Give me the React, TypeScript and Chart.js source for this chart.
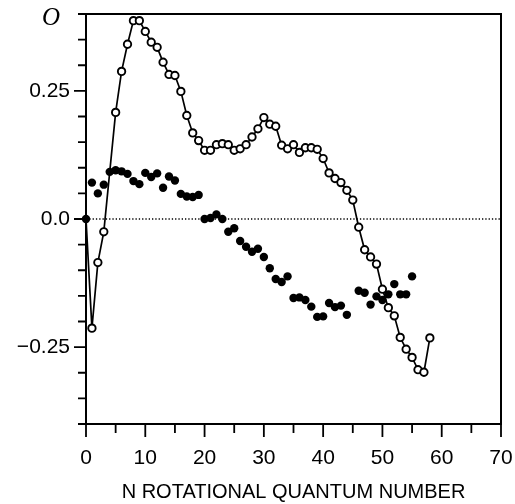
import React, { useEffect, useRef } from "react";
import { Chart, registerables } from "chart.js";

Chart.register(...registerables);

// ---- data ----
const OPEN_N = [0, 1, 2, 3, 5, 6, 7, 8, 9, 10, 11, 12, 13, 14, 15, 16, 17, 18, 19, 20, 21, 22, 23, 24, 25, 26, 27, 28, 29, 30, 31, 32, 33, 34, 35, 36, 37, 38, 39, 40, 41, 42, 43, 44, 45, 46, 47, 48, 49, 50, 51, 52, 53, 54, 55, 56, 57, 58];
const OPEN_VAL = [0, -0.213, -0.085, -0.025, 0.208, 0.288, 0.341, 0.387, 0.387, 0.366, 0.345, 0.335, 0.306, 0.282, 0.28, 0.249, 0.202, 0.168, 0.153, 0.134, 0.134, 0.145, 0.147, 0.145, 0.134, 0.137, 0.145, 0.16, 0.176, 0.198, 0.185, 0.181, 0.144, 0.137, 0.145, 0.13, 0.139, 0.139, 0.136, 0.118, 0.09, 0.079, 0.071, 0.056, 0.037, -0.016, -0.06, -0.074, -0.088, -0.137, -0.173, -0.189, -0.231, -0.254, -0.27, -0.294, -0.299, -0.232];

const FILLED_N = [0, 1, 2, 3, 4, 5, 6, 7, 8, 9, 10, 11, 12, 13, 14, 15, 16, 17, 18, 19, 20, 21, 22, 23, 24, 25, 26, 27, 28, 29, 30, 31, 32, 33, 34, 35, 36, 37, 38, 39, 40, 41, 42, 43, 44, 46, 47, 48, 49, 50, 51, 52, 53, 54, 55];
const FILLED_VAL = [0, 0.071, 0.05, 0.067, 0.092, 0.095, 0.093, 0.088, 0.074, 0.068, 0.09, 0.082, 0.089, 0.061, 0.083, 0.075, 0.049, 0.044, 0.043, 0.047, 0.0, 0.002, 0.009, 0.0, -0.025, -0.018, -0.043, -0.054, -0.064, -0.058, -0.074, -0.096, -0.117, -0.123, -0.112, -0.154, -0.153, -0.158, -0.171, -0.191, -0.19, -0.164, -0.172, -0.169, -0.187, -0.14, -0.144, -0.167, -0.151, -0.158, -0.147, -0.127, -0.147, -0.147, -0.112];

const ZERO_LINE_N = [0, 70];
const ZERO_LINE_VAL = [0, 0];

const X_MIN = 0;
const X_MAX = 70;
const Y_MIN = -0.4;
const Y_MAX = 0.4;
const X_TICKS = [0, 10, 20, 30, 40, 50, 60, 70];
const X_TICK_LABELS = ["0", "10", "20", "30", "40", "50", "60", "70"];
const Y_TICKS = [-0.25, 0, 0.25];
const Y_TICK_LABELS = ["\u22120.25", "0.0", "0.25"];
const X_MINOR_STEP = 5;
const Y_MINOR_STEP = 0.05;
const X_TITLE = "N ROTATIONAL QUANTUM NUMBER";
const CORNER_LABEL = "O";

const FONT = "'Liberation Sans', Arial, Helvetica, sans-serif";

const framePlugin = {
  id: "frame",
  afterDraw(chart: any) {
    const { ctx, chartArea } = chart;
    const xs = chart.scales.x;
    const ys = chart.scales.y;
    const { left, right, top, bottom } = chartArea;
    ctx.save();
    ctx.strokeStyle = "#000";
    ctx.lineWidth = 2;
    ctx.strokeRect(left, top, right - left, bottom - top);
    const nx = Math.round((X_MAX - X_MIN) / X_MINOR_STEP);
    ctx.lineWidth = 1.8;
    ctx.beginPath();
    for (let i = 0; i <= nx; i++) {
      const v = X_MIN + i * X_MINOR_STEP;
      const px = xs.getPixelForValue(v);
      const major = X_TICKS.some((t) => Math.abs(t - v) < 1e-9);
      const len = major ? 13 : 9;
      ctx.moveTo(px, bottom);
      ctx.lineTo(px, bottom + len);
    }
    const ny = Math.round((Y_MAX - Y_MIN) / Y_MINOR_STEP);
    for (let i = 0; i <= ny; i++) {
      const v = Y_MIN + i * Y_MINOR_STEP;
      const py = ys.getPixelForValue(v);
      const major = Y_TICKS.some((t) => Math.abs(t - v) < 1e-9);
      const len = major ? 12 : 8;
      ctx.moveTo(left, py);
      ctx.lineTo(left - len, py);
    }
    ctx.stroke();
    ctx.fillStyle = "#000";
    ctx.font = "italic 25px 'Liberation Serif', 'Times New Roman', serif";
    ctx.textAlign = "center";
    ctx.textBaseline = "middle";
    ctx.fillText(CORNER_LABEL, 51, 18);
    ctx.restore();
  },
};

function zeroPad(s: any) {
  s.paddingTop = 0;
  s.paddingBottom = 0;
  s.paddingLeft = 0;
  s.paddingRight = 0;
}

export default function App() {
  const ref = useRef<HTMLCanvasElement | null>(null);

  useEffect(() => {
    if (!ref.current) return;
    const openData = OPEN_N.map((n, i) => ({ x: n, y: OPEN_VAL[i] }));
    const filledData = FILLED_N.map((n, i) => ({ x: n, y: FILLED_VAL[i] }));
    const zeroData = ZERO_LINE_N.map((n, i) => ({ x: n, y: ZERO_LINE_VAL[i] }));

    const chart = new Chart(ref.current, {
      type: "scatter",
      data: {
        datasets: [
          {
            label: "open",
            data: openData,
            showLine: true,
            borderColor: "#000",
            borderWidth: 1.7,
            pointRadius: (c: any) => (c.dataIndex === 0 ? 0 : 3.7),
            pointBackgroundColor: "#fff",
            pointBorderColor: "#000",
            pointBorderWidth: 1.9,
            clip: false,
            order: 0,
          } as any,
          {
            label: "filled",
            data: filledData,
            showLine: false,
            pointRadius: 4.2,
            pointBackgroundColor: "#000",
            pointBorderColor: "#000",
            pointBorderWidth: 0,
            clip: false,
            order: 1,
          } as any,
          {
            label: "zero",
            data: zeroData,
            showLine: true,
            borderColor: "#000",
            borderWidth: 1.6,
            borderDash: [1.3, 2],
            pointRadius: 0,
            clip: false,
            order: 2,
          } as any,
        ],
      },
      options: {
        animation: false,
        responsive: false,
        maintainAspectRatio: false,
        layout: { padding: { left: 0, right: 14, top: 14, bottom: 0 } },
        plugins: { legend: { display: false }, tooltip: { enabled: false } },
        scales: {
          x: {
            type: "linear",
            position: "bottom",
            min: X_MIN,
            max: X_MAX,
            grid: { display: false, drawTicks: false },
            border: { display: false },
            afterBuildTicks: (s: any) => {
              s.ticks = X_TICKS.map((v) => ({ value: v }));
            },
            afterFit: (s: any) => {
              s.height = 80;
              zeroPad(s);
            },
            ticks: {
              color: "#000",
              font: { size: 21, family: FONT },
              padding: 22,
              maxRotation: 0,
              autoSkip: false,
              callback: (v: any) => {
                const i = X_TICKS.findIndex((t) => Math.abs(t - v) < 1e-9);
                return i >= 0 ? X_TICK_LABELS[i] : "";
              },
            },
            title: {
              display: true,
              text: X_TITLE,
              color: "#000",
              font: { size: 20, family: FONT },
              padding: { top: 0, bottom: 0 },
            },
          },
          y: {
            type: "linear",
            min: Y_MIN,
            max: Y_MAX,
            grid: { display: false, drawTicks: false },
            border: { display: false },
            afterBuildTicks: (s: any) => {
              s.ticks = Y_TICKS.map((v) => ({ value: v }));
            },
            afterFit: (s: any) => {
              s.width = 86;
              zeroPad(s);
            },
            ticks: {
              color: "#000",
              font: { size: 21, family: FONT },
              padding: 16,
              autoSkip: false,
              callback: (v: any) => {
                const i = Y_TICKS.findIndex((t) => Math.abs(t - v) < 1e-9);
                return i >= 0 ? Y_TICK_LABELS[i] : "";
              },
            },
          },
        },
      } as any,
      plugins: [framePlugin],
    });
    return () => chart.destroy();
  }, []);

  return (
    <div style={{ position: "fixed", left: 0, top: 0, width: 515, height: 504, background: "#fff" }}>
      <canvas ref={ref} width={515} height={504} style={{ display: "block", width: 515, height: 504 }} />
    </div>
  );
}
